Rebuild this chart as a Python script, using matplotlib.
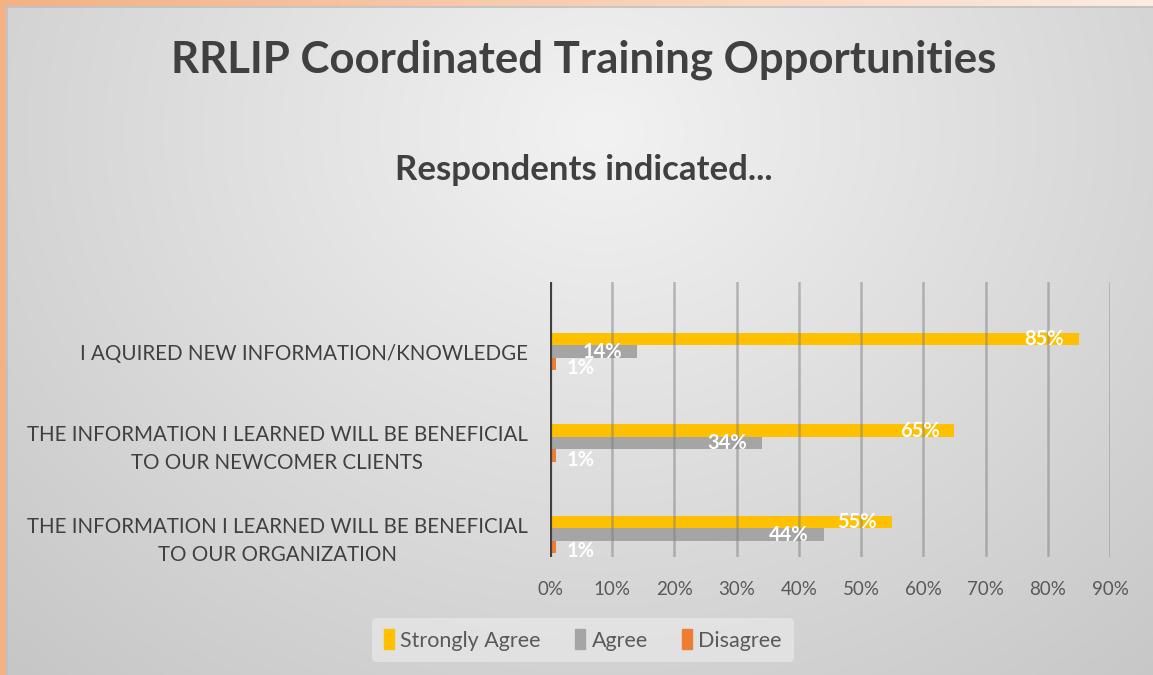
import numpy as np
import matplotlib
matplotlib.use('Agg')
import matplotlib.pyplot as plt
from matplotlib.patches import Rectangle

plt.rcParams['font.family'] = ['Lato', 'DejaVu Sans']

categories = ['I AQUIRED NEW INFORMATION/KNOWLEDGE',
              'THE INFORMATION I LEARNED WILL BE BENEFICIAL\nTO OUR NEWCOMER CLIENTS',
              'THE INFORMATION I LEARNED WILL BE BENEFICIAL\nTO OUR ORGANIZATION']
strongly_agree = [85, 65, 55]
agree = [14, 34, 44]
disagree = [1, 1, 1]
series_names = ['Strongly Agree', 'Agree', 'Disagree']
series_colors = ['#FFC000', '#A5A5A5', '#ED7D31']
x_ticks = [0, 10, 20, 30, 40, 50, 60, 70, 80, 90]

W, H = 1153, 675
fig = plt.figure(figsize=(W / 100, H / 100), dpi=100)

# background: radial gray gradient
bg = fig.add_axes([0, 0, 1, 1], zorder=-10)
yy, xx = np.mgrid[0:H, 0:W]
r = np.sqrt(((xx - 600) / 700) ** 2 + ((yy - 130) / 600) ** 2)
v = np.clip(0.95 - 0.14 * r, 0, 1)
bg.imshow(np.dstack([v, v, v]), extent=[0, W, H, 0], aspect='auto')
# orange frame, left and top
top = np.linspace(0, 1, W)
c0 = np.array([0xF4, 0xB1, 0x83]) / 255
c1 = np.array([0xFC, 0xEC, 0xE2]) / 255
strip = (c0[None, :] * (1 - top[:, None]) + c1[None, :] * top[:, None])[None, :, :]
bg.imshow(strip, extent=[0, W, 6, 0], aspect='auto')
bg.add_patch(Rectangle((0, 0), 6, H, color='#F4B183', lw=0))
bg.plot([6, W], [6.5, 6.5], color='#BFBFBF', lw=1.2)
bg.plot([6.5, 6.5], [6, H], color='#BFBFBF', lw=1.2)
bg.set_xlim(0, W)
bg.set_ylim(H, 0)
bg.axis('off')

# main plot area
ax = fig.add_axes([550 / W, 1 - 557 / H, 560 / W, 275 / H])
ax.patch.set_alpha(0)
pos = np.arange(len(categories))
h = 0.137
for vals, off, col in zip([strongly_agree, agree, disagree], [-h, 0, h], series_colors):
    ax.barh(pos + off, vals, height=h, color=col, zorder=2)
    for p, val in zip(pos, vals):
        if val > 5:
            ax.text(val - 2.4, p + off, f'{val}%', ha='right', va='center',
                    color='white', fontsize=14.5, fontweight='bold', zorder=4)
        else:
            # small values sit just past the bar end
            ax.text(val + 1.6, p + off + 0.045, f'{val}%', ha='left', va='center',
                    color='white', fontsize=14.5, fontweight='bold', zorder=4)

ax.set_xlim(0, 90)
ax.set_ylim(2.245, -0.76)
for t in x_ticks[1:]:
    ax.axvline(t, color='#7F7F7F', alpha=0.5, lw=1.8, zorder=3)
ax.axvline(0, color='#404040', lw=3, zorder=5)
ax.set_xticks(x_ticks)
ax.set_xticklabels([f'{t}%' for t in x_ticks], color='#595959', fontsize=13.5)
ax.set_yticks(pos)
ax.set_yticklabels(categories, color='#404040', fontsize=14.8, multialignment='center',
                   linespacing=1.5)
ax.tick_params(length=0, axis='x', pad=17)
ax.tick_params(length=0, axis='y', pad=16)
for s in ax.spines.values():
    s.set_visible(False)

fig.text(584 / W, 1 - 60 / H, 'RRLIP Coordinated Training Opportunities', ha='center', va='center',
         fontsize=31.5, fontweight='bold', color='#404040')
fig.text(584 / W, 1 - 170 / H, 'Respondents indicated...', ha='center', va='center',
         fontsize=25, fontweight='bold', color='#404040')

handles = [Rectangle((0, 0), 1, 1, color=c) for c in series_colors]
leg = fig.legend(handles, series_names, loc='center', bbox_to_anchor=(583 / W, 1 - 640 / H),
                 ncol=3, frameon=True, fontsize=15.5, handlelength=0.45, handleheight=1.0,
                 handletextpad=0.3, columnspacing=1.6, borderpad=0.55, borderaxespad=0)
leg.get_frame().set_facecolor('#E8E8E8')
leg.get_frame().set_edgecolor('none')
leg.get_frame().set_alpha(0.7)
for txt in leg.get_texts():
    txt.set_color('#595959')

fig.savefig('out.png', dpi=100)
